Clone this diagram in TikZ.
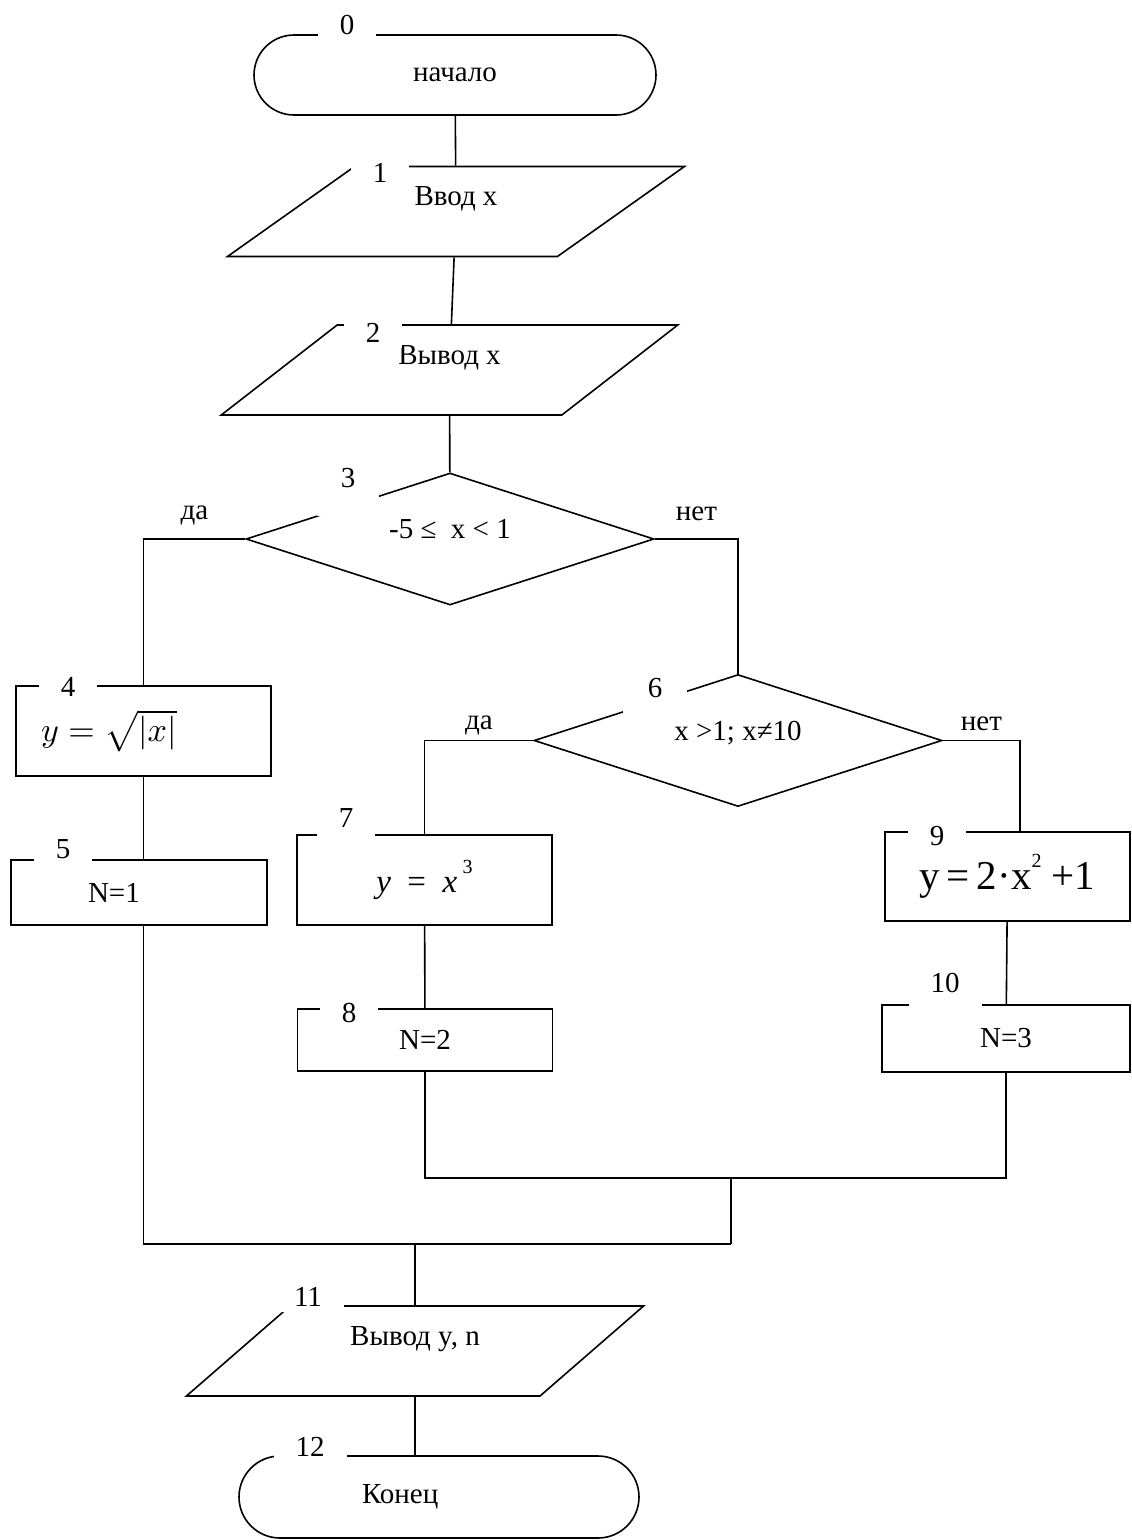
\documentclass[tikz,border=0pt]{standalone}
\usepackage{graphicx}
\usepackage{fontspec}
\setmainfont{Liberation Serif}
\usetikzlibrary{shapes.geometric,shapes.misc}

\newcommand{\chartfont}{\fontsize{29}{34}\selectfont}
\newcommand{\supnum}[1]{\raisebox{0.55em}{\fontsize{20}{20}\selectfont #1}}

\tikzset{
  blk/.style={draw, line width=1.6pt, font=\chartfont, inner sep=4pt},
  term/.style={blk, rounded rectangle, minimum width=410pt, minimum height=80pt},
  io/.style={blk, trapezium, trapezium left angle=45, trapezium right angle=135,
    trapezium stretches=true, minimum width=458pt, minimum height=90pt, text depth=30pt},
  cond/.style={blk, diamond, aspect=3, inner sep=0pt, minimum width=408pt,
    minimum height=132pt, text depth=20pt},
  proc/.style={blk, rectangle, minimum width=255pt, minimum height=90pt},
  num/.style={fill=white, inner xsep=22pt, inner ysep=5pt, font=\chartfont},
  yn/.style={anchor=base, inner sep=0pt, font=\chartfont},
  link/.style={line width=1.6pt},
}

\begin{document}
\begin{tikzpicture}[x=1pt,y=-1pt]
  \useasboundingbox (0,0) rectangle (1132,1540);

  % blocks
  \node[term] (t0) at (455,75) {начало};
  \node[io] (io1) at (456,211.5) {Ввод x};
  \node[io] (io2) at (449.5,370) {Вывод x};
  \node[cond] (d3) at (450,539) {-5~≤~~x < 1};
  \node[proc, text width=205pt, inner xsep=25pt, align=left] (b4) at (143.5,731)
    {\scalebox{3.4}{\normalsize $y=\sqrt{|x|}$}};
  \node[proc, minimum height=65pt, text width=102pt, inner xsep=77pt, align=left] (b5) at (139,892.5) {N=1};
  \node[cond] (d6) at (738,740.5) {x >1; x≠10};
  \node[proc, font=\fontsize{33}{38}\selectfont] (b7) at (424.5,880)
    {\textit{y}\ \ =\ \ \textit{x}\,\supnum{3}};
  \node[proc, minimum height=62pt] (b8) at (425,1040) {N=2};
  \node[proc, minimum width=245pt, minimum height=89pt,
    font=\fontsize{41}{48}\selectfont] (b9) at (1007.5,876.5) {y\,=\,2·x\supnum{2}\ +1};
  \node[proc, minimum width=248pt, minimum height=67pt] (b10) at (1006,1038.5) {N=3};
  \node[io] (io11) at (415,1351) {Вывод y, n};
  \node[term, minimum width=408pt, minimum height=82pt, text width=154pt, align=left] (t12) at (439,1497) {Конец};

  % block numbers
  \node[num] (n0) at (347,25) {0};
  \node[num] (n1) at (380,173) {1};
  \node[num] (n2) at (373,333) {2};
  \node[num, inner xsep=24pt, inner ysep=28pt] (n3) at (348,478) {3};
  \node[num] (n4) at (68,687) {4};
  \node[num] (n5) at (63,849) {5};
  \node[num, inner xsep=25pt, inner ysep=15pt] (n6) at (655,688) {6};
  \node[num, inner ysep=10pt] (n7) at (346,818) {7};
  \node[num] (n8) at (349,1013) {8};
  \node[num] (n9) at (937,836) {9};
  \node[num, inner ysep=16pt] (n10) at (945,983) {10};
  \node[num] (n11) at (308,1297) {11};
  \node[num] (n12) at (310,1447) {12};

  % merge points
  \coordinate (m1) at (731,1178);
  \coordinate (m2) at (731,1244);
  \coordinate (m3) at (415,1244);

  % connectors
  \draw[link] (t0) -- (io1);
  \draw[link] (io1) -- (io2);
  \draw[link] (io2) -- (d3);
  \draw[link] (d3.west) -| node[yn, pos=.25, yshift=20pt] {да} (b4.north);
  \draw[link] (d3.east) -| node[yn, pos=.25, yshift=19pt] {нет} (d6.north);
  \draw[link] (b4) -- (b4 |- b5.north);
  \draw[link] (d6.west) -| node[yn, pos=.25, yshift=11pt] {да} (b7.north);
  \draw[link] (d6.east) -| node[yn, pos=.25, yshift=10pt] {нет} ([xshift=12.5pt]b9.north);
  \draw[link] (b7) -- (b8);
  \draw[link] (b9) -- (b10);
  \draw[link] (b8.south) |- (m1) -| (b10.south);
  \draw[link] (m1) -- (m2);
  \draw[link] (b4 |- b5.south) |- (m2);
  \draw[link] (m3) -- (io11.north);
  \draw[link] (io11.south) -- (io11.south |- t12.north);
\end{tikzpicture}
\end{document}
